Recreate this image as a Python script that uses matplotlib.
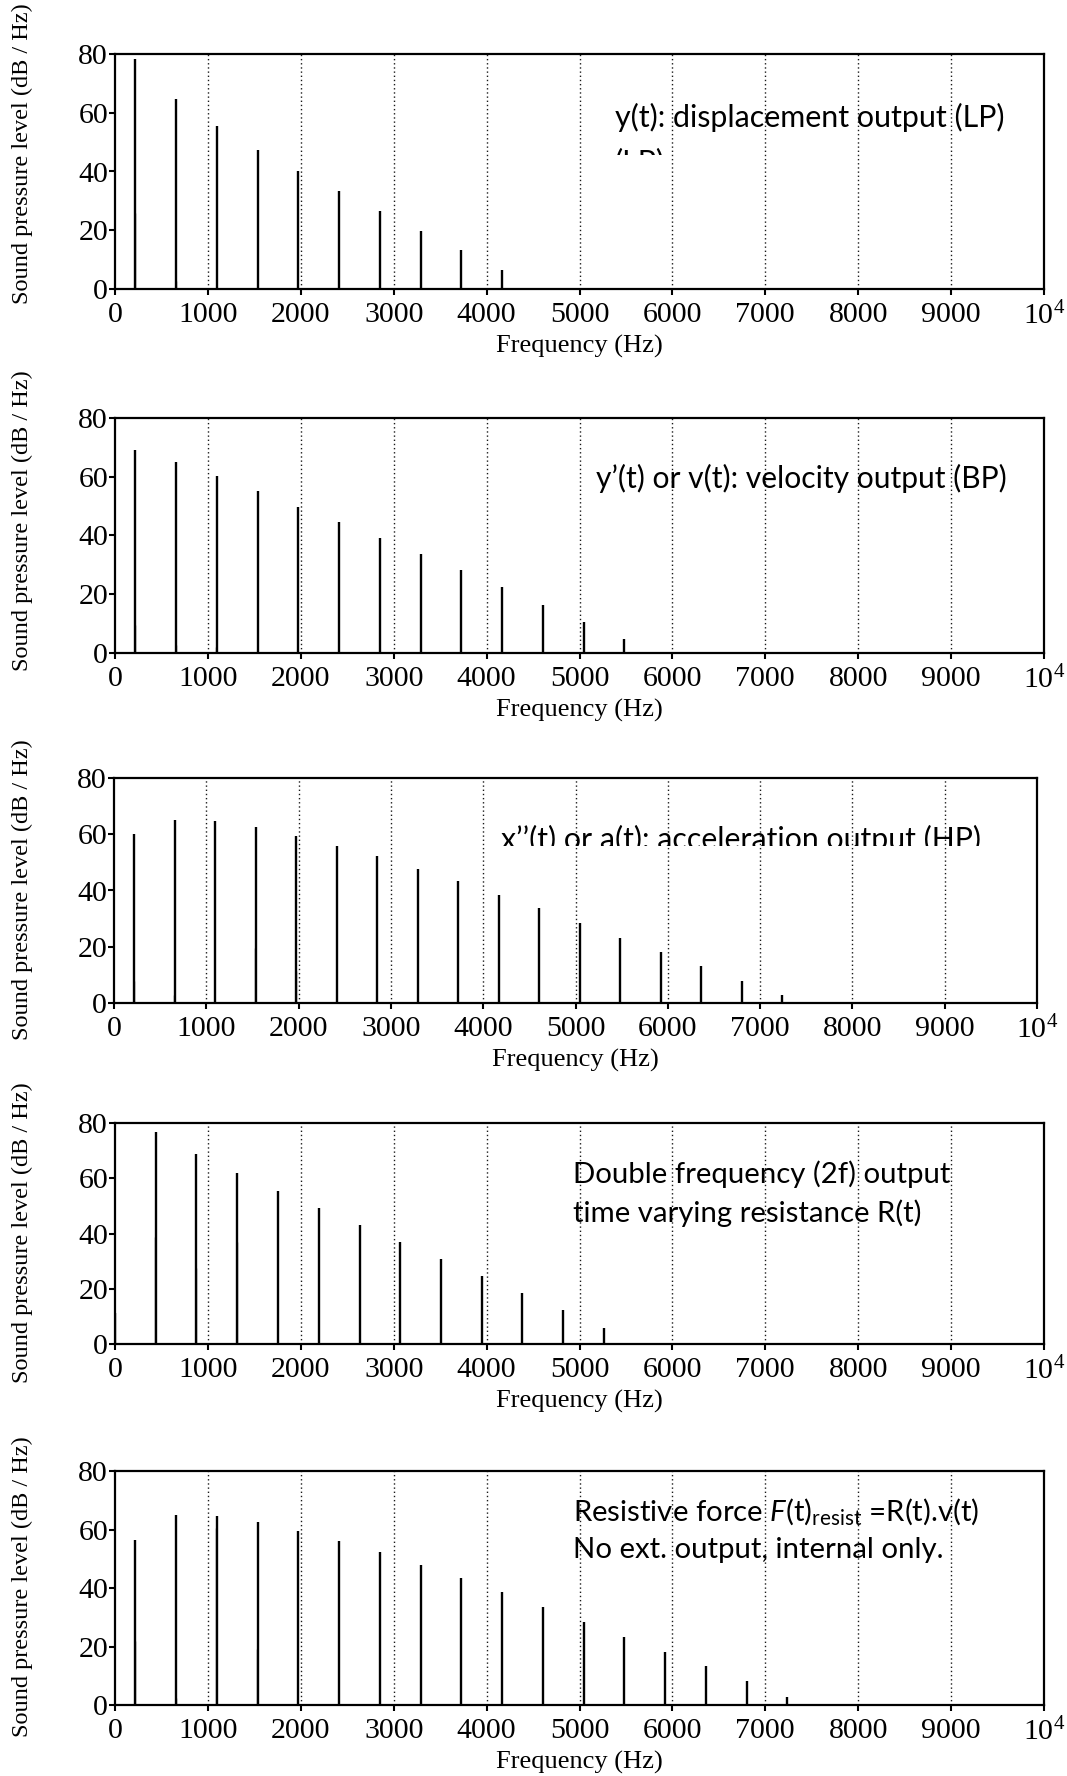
import matplotlib
matplotlib.use("Agg")
import matplotlib.pyplot as plt
import matplotlib.transforms as mtransforms

plt.rcParams['font.family'] = ['Liberation Serif', 'DejaVu Serif']
plt.rcParams['mathtext.fontset'] = 'custom'
plt.rcParams['mathtext.rm'] = 'Lato'
plt.rcParams['mathtext.it'] = 'Lato:italic'

W, H, DPI = 1067, 1776, 100

# ---------------- data ----------------
x_ticks = [0, 1000, 2000, 3000, 4000, 5000, 6000, 7000, 8000, 9000, 10000]
x_tick_labels = ['0', '1000', '2000', '3000', '4000', '5000', '6000', '7000',
                 '8000', '9000', r'$\mathregular{10^4}$']
y_ticks = [0, 20, 40, 60, 80]
y_tick_labels = ['0', '20', '40', '60', '80']

# odd harmonics (Hz)
freq_odd = [219, 658, 1096, 1535, 1974, 2412, 2851, 3290, 3728, 4167,
            4606, 5044, 5483, 5922, 6360, 6799, 7237]
# DC + even harmonics (Hz)
freq_even = [0, 439, 877, 1316, 1754, 2193, 2632, 3070, 3509, 3947,
             4386, 4825, 5263]

lp_levels = [78.3, 64.7, 55.5, 47.3, 40.0, 33.2, 26.5, 19.7, 13.2, 6.4]
bp_levels = [69.2, 65.0, 60.2, 55.0, 49.7, 44.5, 39.3, 33.8, 28.1, 22.3,
             16.5, 10.7, 4.6]
hp_levels = [60.2, 65.2, 64.8, 62.6, 59.4, 55.9, 52.1, 47.8, 43.5, 38.5,
             33.7, 28.6, 23.1, 18.3, 13.2, 7.9, 2.8]
r2f_levels = [11.2, 76.6, 68.7, 61.8, 55.3, 49.2, 43.1, 36.9, 30.8, 24.5,
              18.5, 12.3, 5.8]
force_levels = [56.3, 64.9, 64.5, 62.5, 59.4, 56.0, 52.2, 47.9, 43.4, 38.6,
                33.6, 28.4, 23.2, 18.2, 13.2, 8.2, 2.8]

# neighbouring FFT bins (leakage)
lp_side_f = [213, 652]
lp_side = [26.0, 2.6]
bp_side_f = [213, 652, 1090]
bp_side = [9.4, 2.6, 2.0]
hp_side_f = [213, 652, 1529, 1968]
hp_side = [7.7, 3.0, 19.6, 11.3]
r2f_side_f = [433, 872, 1311]
r2f_side = [38.9, 27.4, 36.9]
force_side_f = [213, 652, 1090, 1529]
force_side = [21.8, 2.5, 60.5, 19.2]

panel_freqs = [freq_odd[:len(lp_levels)], freq_odd[:len(bp_levels)],
               freq_odd[:len(hp_levels)], freq_even[:len(r2f_levels)],
               freq_odd[:len(force_levels)]]
panel_levels = [lp_levels, bp_levels, hp_levels, r2f_levels, force_levels]
panel_side_f = [lp_side_f, bp_side_f, hp_side_f, r2f_side_f, force_side_f]
panel_side = [lp_side, bp_side, hp_side, r2f_side, force_side]

x_label = 'Frequency (Hz)'
y_label = 'Sound pressure level (dB / Hz)'

# ---------------- layout (pixels) ----------------
# left, right, top, bottom
rects = [(115, 1044, 54, 289),
         (115, 1044, 418, 653),
         (114, 1037, 778, 1003),
         (115, 1044, 1123, 1344),
         (115, 1044, 1471, 1705)]
ylabel_centers = [154, 521, 890, 1233, 1587]

fig = plt.figure(figsize=(W / DPI, H / DPI), dpi=DPI)
fig.patch.set_facecolor('white')

axes = []
for i, (l, r, t, b) in enumerate(rects):
    ax = fig.add_axes([l / W, 1 - b / H, (r - l) / W, (b - t) / H])
    axes.append(ax)
    ax.set_xlim(0, 10000)
    ax.set_ylim(0, 80)
    for xv in x_ticks[1:-1]:
        ax.axvline(xv, color='0.1', lw=1.0, ls=(0, (1.0, 2.0)), zorder=1)
    ax.vlines(panel_side_f[i], 0, panel_side[i], colors='0.3', lw=1.0, zorder=2)
    ax.vlines(panel_freqs[i], 0, panel_levels[i], colors='black', lw=1.7, zorder=3)
    ax.set_xticks(x_ticks)
    ax.set_xticklabels(x_tick_labels)
    ax.set_yticks(y_ticks)
    ax.set_yticklabels(y_tick_labels)
    ax.tick_params(axis='both', direction='out', length=4, width=1.5,
                   labelsize=21.5, colors='black')
    ax.tick_params(axis='y', pad=1.0)
    ax.tick_params(axis='x', pad=5.5)
    for s in ax.spines.values():
        s.set_linewidth(1.6)
        s.set_color('black')
    hpx = b - t
    wpx = r - l
    ax.set_xlabel(x_label, fontsize=19, va='center')
    ax.xaxis.set_label_coords(0.5, -57 / hpx)
    ax.set_ylabel(y_label, fontsize=17.5, va='center', ha='center',
                  rotation_mode='default')
    ax.yaxis.set_label_coords((22.6 - l) / wpx, (b - ylabel_centers[i]) / hpx)

# ---------------- annotations ----------------
ann_font = ['Lato', 'DejaVu Sans']
annotations = [
    dict(lines=['y(t): displacement output (LP)'], x=615, base=[127], width=390, clip=None),
    dict(lines=['y\u2019(t) or v(t): velocity output (BP)'], x=596, base=[488], width=411, clip=None),
    dict(lines=['x\u2019\u2019(t) or a(t): acceleration output (HP)'], x=501, base=[849], width=480, clip=846),
    dict(lines=['Double frequency (2f) output', 'time varying resistance R(t)'],
         x=573, base=[1183, 1222], width=379, clip=None),
    dict(lines=[r'Resistive force $F\mathrm{(t)}_{\mathrm{resist}}$ =R(t).v(t)',
                'No ext. output, internal only.'],
         x=573, base=[1520, 1558], width=407, clip=None),
]

groups = []
for a in annotations:
    ts = []
    for s, y in zip(a['lines'], a['base']):
        t = fig.text(a['x'] / W, 1 - y / H, s, family=ann_font, fontsize=20,
                     ha='left', va='baseline', color='black', zorder=5)
        if a['clip'] is not None:
            bb = mtransforms.TransformedBbox(
                mtransforms.Bbox([[0, 1 - a['clip'] / H], [1, 1]]), fig.transFigure)
            t.set_clip_box(bb)
            t.set_clip_on(True)
        ts.append(t)
    groups.append((ts, a['width']))

# clipped remnant of a second "(LP)" line in the first panel
ghost = fig.text(615 / W, 1 - 171 / H, '(LP)', family=ann_font, fontsize=20,
                 ha='left', va='baseline', color='black', zorder=5)
ghost.set_clip_box(mtransforms.TransformedBbox(
    mtransforms.Bbox([[0, 1 - 155 / H], [1, 1]]), fig.transFigure))
ghost.set_clip_on(True)

fig.canvas.draw()
rend = fig.canvas.get_renderer()
for k, (ts, target) in enumerate(groups):
    w = ts[0].get_window_extent(rend).width
    size = 20 * target / w
    for t in ts:
        t.set_fontsize(size)
    if k == 0:
        ghost.set_fontsize(size)

fig.savefig('out.png', dpi=DPI)
